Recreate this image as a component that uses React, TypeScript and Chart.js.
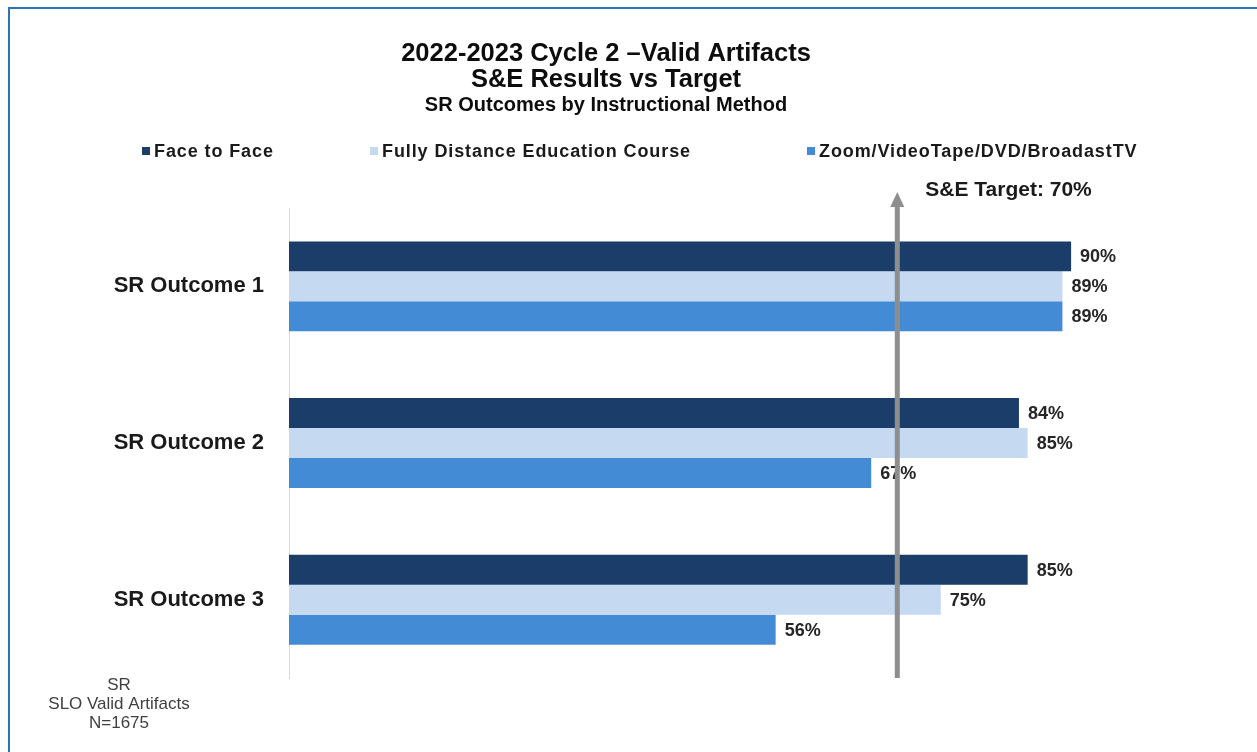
import React, { useEffect, useRef } from "react";
import { Chart, registerables } from "chart.js";
Chart.register(...registerables);

const categories = ["SR Outcome 1", "SR Outcome 2", "SR Outcome 3"];
const seriesNames = ["Face to Face", "Fully Distance Education Course", "Zoom/VideoTape/DVD/BroadastTV"];
const faceToFace = [90, 84, 85];
const fullyDistance = [89, 85, 75];
const zoomVideo = [89, 67, 56];
const seriesColors = ["#1A3D69", "#C5D9F1", "#448BD6"];
const targetValue = 70;
const targetLabel = "S&E Target: 70%";
const titleLines = ["2022-2023 Cycle 2 –Valid Artifacts", "S&E Results vs Target"];
const subtitleText = "SR Outcomes by Instructional Method";
const noteLines = ["SR", "SLO Valid Artifacts", "N=1675"];

const FONT = "'Liberation Sans', Arial, Helvetica, sans-serif";
const LEGEND_X = [132, 360, 797];

const legendRowPlugin = {
  id: "legendRow",
  afterDraw(chart: any) {
    const ctx = chart.ctx;
    ctx.save();
    ctx.font = `bold 18px ${FONT}`;
    (ctx as any).letterSpacing = "0.9px";
    ctx.textBaseline = "middle";
    ctx.textAlign = "left";
    const y = 142;
    chart.data.datasets.forEach((ds: any, i: number) => {
      const x = LEGEND_X[i];
      ctx.fillStyle = ds.backgroundColor;
      ctx.fillRect(x, y - 4, 8, 8);
      ctx.fillStyle = "#1a1a1a";
      ctx.fillText(ds.label, x + 12, y + 1);
    });
    ctx.restore();
  },
};

const barLabelPlugin = {
  id: "barLabels",
  afterDatasetsDraw(chart: any) {
    const ctx = chart.ctx;
    ctx.save();
    ctx.font = `bold 18px ${FONT}`;
    ctx.fillStyle = "#262626";
    ctx.textBaseline = "middle";
    ctx.textAlign = "left";
    chart.data.datasets.forEach((ds: any, i: number) => {
      const meta = chart.getDatasetMeta(i);
      meta.data.forEach((el: any, j: number) => {
        ctx.fillText(`${ds.data[j]}%`, el.x + 9, el.y + 1);
      });
    });
    ctx.restore();
  },
};

const targetPlugin = {
  id: "targetArrow",
  afterDraw(chart: any) {
    const ctx = chart.ctx;
    const area = chart.chartArea;
    const x = chart.scales.x.getPixelForValue(targetValue);
    const tipY = area.top - 16;
    const baseY = area.top - 1;
    ctx.save();
    ctx.strokeStyle = "#8E8E8E";
    ctx.fillStyle = "#8E8E8E";
    ctx.lineWidth = 5;
    ctx.beginPath();
    ctx.moveTo(x, area.bottom);
    ctx.lineTo(x, baseY);
    ctx.stroke();
    ctx.beginPath();
    ctx.moveTo(x, tipY);
    ctx.lineTo(x - 7, baseY);
    ctx.lineTo(x + 7, baseY);
    ctx.closePath();
    ctx.fill();
    ctx.font = `bold 21px ${FONT}`;
    ctx.fillStyle = "#1a1a1a";
    ctx.textAlign = "left";
    ctx.textBaseline = "middle";
    ctx.fillText(targetLabel, x + 28, area.top - 18);
    ctx.restore();
  },
};

const notePlugin = {
  id: "noteText",
  afterDraw(chart: any) {
    const ctx = chart.ctx;
    const area = chart.chartArea;
    ctx.save();
    ctx.font = `17px ${FONT}`;
    ctx.fillStyle = "#404040";
    ctx.textAlign = "center";
    ctx.textBaseline = "middle";
    noteLines.forEach((t, i) => {
      ctx.fillText(t, 109, area.bottom + 7 + i * 19);
    });
    ctx.restore();
  },
};

export default function App() {
  const canvasRef = useRef<HTMLCanvasElement>(null);

  useEffect(() => {
    if (!canvasRef.current) return;
    const seriesValues = [faceToFace, fullyDistance, zoomVideo];
    const chart = new Chart(canvasRef.current, {
      type: "bar",
      data: {
        labels: categories,
        datasets: seriesNames.map((name, i) => ({
          label: name,
          data: seriesValues[i],
          backgroundColor: seriesColors[i],
          borderWidth: 0,
          barPercentage: 1,
          categoryPercentage: 0.574,
        })),
      },
      options: {
        indexAxis: "y",
        responsive: false,
        maintainAspectRatio: false,
        animation: false,
        layout: { padding: { left: 44, right: 44, top: 0, bottom: 74 } },
        plugins: {
          legend: { display: false },
          tooltip: { enabled: false },
          title: {
            display: true,
            text: titleLines,
            color: "#0d0d0d",
            font: { family: FONT, size: 25.5, weight: "bold", lineHeight: 1.02 },
            padding: { top: 32, bottom: 2 },
          },
          subtitle: {
            display: true,
            text: subtitleText,
            color: "#0d0d0d",
            font: { family: FONT, size: 20, weight: "bold", lineHeight: 1.0 },
            padding: { top: 0, bottom: 93 },
          },
        },
        scales: {
          x: { display: false, min: 0, max: 100 },
          y: {
            position: "left",
            grid: { display: true, drawOnChartArea: false, drawTicks: false },
            border: { display: true, color: "#D9D9D9", width: 1 },
            ticks: {
              color: "#1a1a1a",
              font: { family: FONT, size: 22, weight: "bold" },
              padding: 25,
            },
            afterFit(scale: any) {
              scale.width = 235;
            },
          },
        },
      },
      plugins: [barLabelPlugin, targetPlugin, legendRowPlugin, notePlugin],
    } as any);
    return () => chart.destroy();
  }, []);

  return (
    <div style={{ position: "fixed", left: 0, top: 0, width: 1257, height: 752, overflow: "hidden", background: "#fff" }}>
      <div
        style={{
          position: "absolute",
          left: 8,
          top: 7,
          width: 1300,
          height: 800,
          border: "2px solid #2E75B6",
          boxSizing: "border-box",
        }}
      />
      <canvas
        ref={canvasRef}
        width={1192}
        height={743}
        style={{ position: "absolute", left: 10, top: 9, width: 1192, height: 743 }}
      />
    </div>
  );
}
